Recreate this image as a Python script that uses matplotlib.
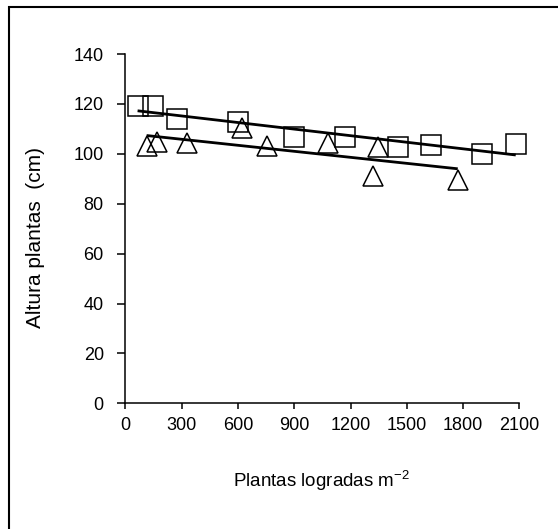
import numpy as np
import matplotlib
matplotlib.use("Agg")
import matplotlib.pyplot as plt
from matplotlib.patches import Rectangle

plt.rcParams["font.family"] = ["Liberation Sans", "DejaVu Sans"]
plt.rcParams["mathtext.fontset"] = "custom"
plt.rcParams["mathtext.rm"] = "Liberation Sans"

# ── Data ───────────────────────────────────────────────────
sq_x = [65, 149, 277, 599, 900, 1171, 1451, 1629, 1899, 2080]
sq_y = [119.0, 119.0, 113.8, 112.9, 106.6, 106.9, 102.9, 103.5, 99.9, 103.8]

tri_x = [113, 167, 330, 620, 756, 1082, 1345, 1318, 1771]
tri_y = [103.0, 104.9, 104.5, 110.5, 103.1, 104.2, 102.9, 91.2, 89.5]

x_ticks = [0, 300, 600, 900, 1200, 1500, 1800, 2100]
y_ticks = [0, 20, 40, 60, 80, 100, 120, 140]

# ── Figure ─────────────────────────────────────────────────
fig = plt.figure(figsize=(5.58, 5.29), dpi=100)
ax = fig.add_axes([0.2247, 0.2376, 0.7063, 0.6603])

mk = dict(linestyle="none", markersize=14, markeredgewidth=1.1,
          markeredgecolor="black", fillstyle="none", clip_on=False)
ax.plot(sq_x, sq_y, marker="s", **mk)
ax.plot(tri_x, tri_y, marker="^", **mk)

# linear trend lines over each series' range
for xs, ys in [(sq_x, sq_y), (tri_x, tri_y)]:
    xs = np.array(xs, dtype=float)
    coef = np.polyfit(xs, ys, 1)
    xx = np.array([xs.min(), xs.max()])
    ax.plot(xx, np.polyval(coef, xx), color="black", lw=2.0,
            solid_capstyle="butt")

ax.set_xlim(0, 2100)
ax.set_ylim(0, 140)
ax.set_xticks(x_ticks)
ax.set_yticks(y_ticks)
for s in ["top", "right"]:
    ax.spines[s].set_visible(False)
for s in ["left", "bottom"]:
    ax.spines[s].set_linewidth(1.1)
ax.tick_params(axis="y", direction="out", length=5.5, width=1.1,
               pad=10, labelsize=13)
ax.tick_params(axis="x", direction="out", length=4, width=1.1,
               pad=6, labelsize=13)

fig.text(36 / 558, 1 - 237 / 529, "Altura plantas  (cm)", rotation=90,
         ha="center", va="center", fontsize=15)
fig.text(321 / 558, 1 - 487 / 529, r"Plantas logradas m$\mathregular{^{-2}}$",
         ha="center", va="baseline", fontsize=13.5)

# outer frame (right and bottom edges fall outside the image)
fig.patches.append(Rectangle((8.5 / 558, -0.2), 1.5, 1.2 - 7 / 529,
                             transform=fig.transFigure, fill=False,
                             edgecolor="black", lw=1.5))

fig.savefig("out.png", dpi=100)
